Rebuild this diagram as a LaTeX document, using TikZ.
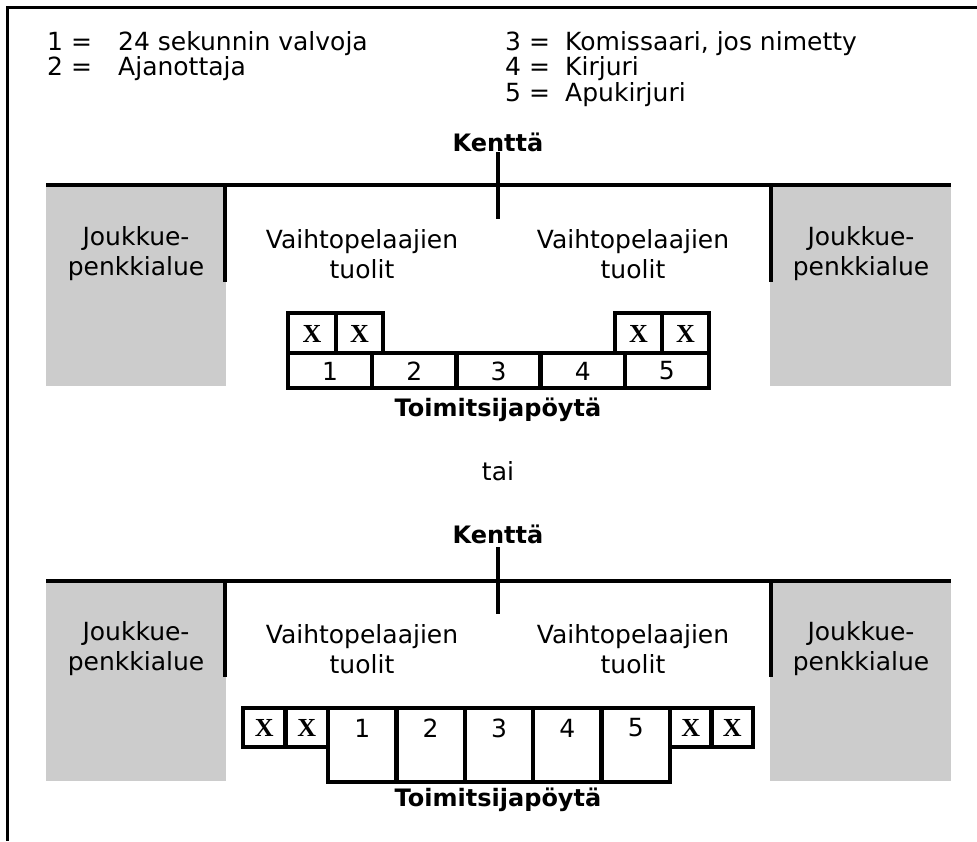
\documentclass[tikz,border=0pt]{standalone}
\usepackage{fontspec}
\setmainfont{DejaVu Sans}
\newfontfamily\xfont{Liberation Serif Bold}
\definecolor{benchgray}{HTML}{CCCCCC}
\tikzset{
  legend/.style={anchor=base west, inner sep=0pt, font=\fontsize{25}{30}\selectfont},
  txt/.style={inner sep=0pt, align=center, font=\fontsize{25}{30}\selectfont},
  bold/.style={inner sep=0pt, font=\fontsize{24}{29}\selectfont\bfseries},
  cellnum/.style={inner sep=0pt, font=\fontsize{25}{29}\selectfont},
  xsign/.style={inner sep=0pt, font=\fontsize{26}{26}\selectfont\xfont},
  wall/.style={line width=4.5pt},
  frame/.style={line width=3pt}
}
\begin{document}
\begin{tikzpicture}[x=1pt,y=-1pt]
    \useasboundingbox (0,0) rectangle (977,841);
    \draw [frame] (977,7) -- (7,7) -- (7,841);

    % legend
    \node [legend] (n1) at (47,50) {1 =};
    \node [legend] (t1) at (118,50) {24 sekunnin valvoja};
    \node [legend] (n2) at (47,75.5) {2 =};
    \node [legend] (t2) at (118,75.5) {Ajanottaja};
    \node [legend] (n3) at (505,50) {3 =};
    \node [legend] (t3) at (565,50) {Komissaari, jos nimetty};
    \node [legend] (n4) at (505,75.5) {4 =};
    \node [legend] (t4) at (565,75.5) {Kirjuri};
    \node [legend] (n5) at (505,101) {5 =};
    \node [legend] (t5) at (565,101) {Apukirjuri};

    % upper layout
    \fill [benchgray] (46,185) rectangle (226,386);
    \fill [benchgray] (770,185) rectangle (951,386);
    \draw [wall] (46,185) -- (951,185);
    \draw [wall] (498,152) -- (498,219);
    \draw [wall] (225,185) -- (225,282);
    \draw [wall] (771,185) -- (771,282);

    \node [bold] (fieldA) at (498,142) {Kenttä};
    \node [txt] (benchAl) at (136,254) {Joukkue-\\penkkialue};
    \node [txt] (benchAr) at (861,254) {Joukkue-\\penkkialue};
    \node [txt] (chairsAl) at (362,254) {Vaihtopelaajien\\tuolit};
    \node [txt] (chairsAr) at (633,254) {Vaihtopelaajien\\tuolit};

    \draw [wall] (288,313) rectangle (336,353);
    \draw [wall] (336,313) rectangle (383,353);
    \draw [wall] (615,313) rectangle (662,353);
    \draw [wall] (662,313) rectangle (709,353);
    \draw [wall] (288,353) rectangle (372.2,388);
    \draw [wall] (372.2,353) rectangle (456.4,388);
    \draw [wall] (456.4,353) rectangle (540.6,388);
    \draw [wall] (540.6,353) rectangle (624.8,388);
    \draw [wall] (624.8,353) rectangle (709,388);

    \node [xsign] (xA1) at (312,334) {X};
    \node [xsign] (xA2) at (359.5,334) {X};
    \node [xsign] (xA3) at (638.5,334) {X};
    \node [xsign] (xA4) at (685.5,334) {X};
    \node [cellnum] (cA1) at (330.1,371) {1};
    \node [cellnum] (cA2) at (414.3,371) {2};
    \node [cellnum] (cA3) at (498.5,371) {3};
    \node [cellnum] (cA4) at (582.7,371) {4};
    \node [cellnum] (cA5) at (666.9,371) {5};
    \node [bold] (deskA) at (498,410) {Toimitsijapöytä};

    \node [txt] (or) at (498,471) {tai};

    % lower layout
    \fill [benchgray] (46,581) rectangle (226,781);
    \fill [benchgray] (770,581) rectangle (951,781);
    \draw [wall] (46,581) -- (951,581);
    \draw [wall] (498,547) -- (498,614);
    \draw [wall] (225,581) -- (225,677);
    \draw [wall] (771,581) -- (771,677);

    \node [bold] (fieldB) at (498,534) {Kenttä};
    \node [txt] (benchBl) at (136,649) {Joukkue-\\penkkialue};
    \node [txt] (benchBr) at (861,649) {Joukkue-\\penkkialue};
    \node [txt] (chairsBl) at (362,649) {Vaihtopelaajien\\tuolit};
    \node [txt] (chairsBr) at (633,649) {Vaihtopelaajien\\tuolit};

    \draw [wall] (243,708) rectangle (285.5,747);
    \draw [wall] (285.5,708) rectangle (328,747);
    \draw [wall] (670,708) rectangle (711.5,747);
    \draw [wall] (711.5,708) rectangle (753,747);
    \draw [wall] (328,708) rectangle (396.4,782);
    \draw [wall] (396.4,708) rectangle (464.8,782);
    \draw [wall] (464.8,708) rectangle (533.2,782);
    \draw [wall] (533.2,708) rectangle (601.6,782);
    \draw [wall] (601.6,708) rectangle (670,782);

    \node [xsign] (xB1) at (264.25,728) {X};
    \node [xsign] (xB2) at (306.75,728) {X};
    \node [xsign] (xB3) at (690.75,728) {X};
    \node [xsign] (xB4) at (732.25,728) {X};
    \node [cellnum] (cB1) at (362.2,728) {1};
    \node [cellnum] (cB2) at (430.6,728) {2};
    \node [cellnum] (cB3) at (499,728) {3};
    \node [cellnum] (cB4) at (567.4,728) {4};
    \node [cellnum] (cB5) at (635.8,728) {5};
    \node [bold] (deskB) at (498,800) {Toimitsijapöytä};

\end{tikzpicture}
\end{document}
